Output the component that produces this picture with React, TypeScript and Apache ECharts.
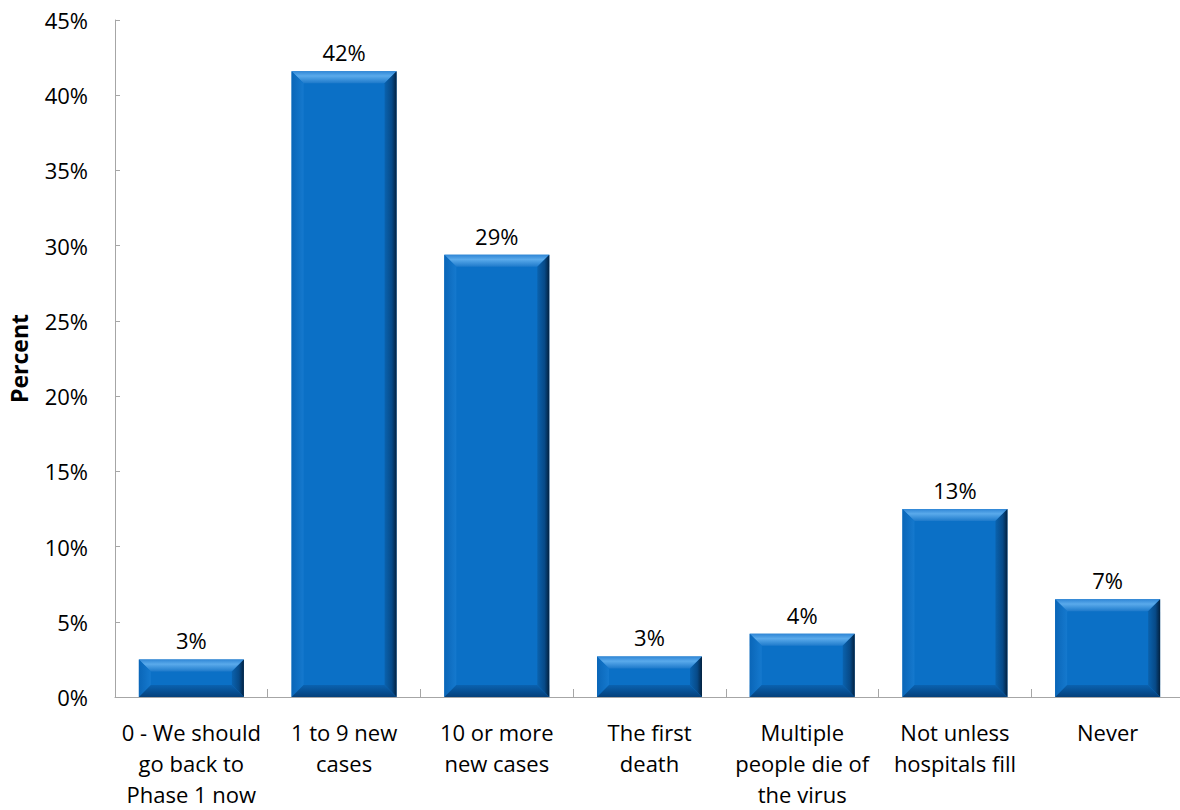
import React, { useEffect, useRef } from "react";
import * as echarts from "echarts";

const categories = [
  "0 - We should\ngo back to\nPhase 1 now",
  "1 to 9 new\ncases",
  "10 or more\nnew cases",
  "The first\ndeath",
  "Multiple\npeople die of\nthe virus",
  "Not unless\nhospitals fill",
  "Never",
];
const values = [2.5, 41.6, 29.4, 2.7, 4.2, 12.5, 6.5];
const valueLabels = ["3%", "42%", "29%", "3%", "4%", "13%", "7%"];
const yTicks = { min: 0, max: 45, interval: 5 };

const FONT = "'Open Sans', 'Noto Sans', sans-serif";

export default function App() {
  const ref = useRef<HTMLDivElement>(null);
  useEffect(() => {
    if (!ref.current) return;
    const chart = echarts.init(ref.current, null, { renderer: "svg" });
    const renderItem = (params: any, api: any) => {
      const idx = api.value(0);
      const val = api.value(1);
      const top = api.coord([idx, val]);
      const bot = api.coord([idx, 0]);
      const w = 105;
      const x = top[0] - w / 2;
      const y = top[1];
      const h = bot[1] - top[1];
      const b = Math.min(12, h / 2, w / 2);
      return {
        type: "group",
        children: [
          {
            type: "rect",
            shape: { x, y, width: w, height: h },
            style: { fill: "#0B70C6" },
          },
          {
            type: "polygon",
            shape: { points: [[x, y], [x + w, y], [x + w - b, y + b], [x + b, y + b]] },
            style: {
              fill: new echarts.graphic.LinearGradient(0, 0, 0, 1, [
                { offset: 0, color: "#2F86D6" },
                { offset: 0.4, color: "#5AAAEB" },
                { offset: 1, color: "#1E7ACB" },
              ]),
            },
          },
          {
            type: "polygon",
            shape: { points: [[x, y], [x + b, y + b], [x + b, y + h - b], [x, y + h]] },
            style: {
              fill: new echarts.graphic.LinearGradient(0, 0, 1, 0, [
                { offset: 0, color: "#0A66B8" },
                { offset: 1, color: "#1579CE" },
              ]),
            },
          },
          {
            type: "polygon",
            shape: { points: [[x + w, y], [x + w, y + h], [x + w - b, y + h - b], [x + w - b, y + b]] },
            style: {
              fill: new echarts.graphic.LinearGradient(0, 0, 1, 0, [
                { offset: 0, color: "#0A62AE" },
                { offset: 0.6, color: "#074A88" },
                { offset: 1, color: "#03213F" },
              ]),
            },
          },
          {
            type: "polygon",
            shape: { points: [[x, y + h], [x + w, y + h], [x + w - b, y + h - b], [x + b, y + h - b]] },
            style: {
              fill: new echarts.graphic.LinearGradient(0, 0, 0, 1, [
                { offset: 0, color: "#0A62B0" },
                { offset: 1, color: "#05407A" },
              ]),
            },
          },
          {
            type: "text",
            style: {
              text: valueLabels[idx],
              x: top[0],
              y: y - 8,
              align: "center",
              verticalAlign: "bottom",
              fill: "#000",
              font: `22px ${FONT}`,
            },
          },
        ],
      };
    };
    chart.setOption({
      animation: false,
      grid: { left: 115, top: 20, right: -4, bottom: 113, outerBoundsMode: "none", containLabel: false },
      xAxis: {
        type: "category",
        data: categories,
        axisLine: { lineStyle: { color: "#A6A6A6", width: 1 } },
        axisTick: { show: true, inside: true, length: 8, lineStyle: { color: "#A6A6A6" } },
        axisLabel: {
          interval: 0,
          color: "#000",
          fontFamily: FONT,
          fontSize: 22,
          lineHeight: 31,
          margin: 19,
        },
      },
      yAxis: {
        type: "value",
        min: yTicks.min,
        max: yTicks.max,
        interval: yTicks.interval,
        name: "Percent",
        nameLocation: "middle",
        nameRotate: 90,
        nameGap: 85,
        nameTextStyle: { fontFamily: FONT, fontSize: 23, fontWeight: "bold", color: "#000" },
        splitLine: { show: false },
        axisLine: { show: true, lineStyle: { color: "#A6A6A6", width: 1 } },
        axisTick: { show: true, inside: true, length: 5, lineStyle: { color: "#A6A6A6" } },
        axisLabel: {
          formatter: "{value}%",
          color: "#000",
          fontFamily: FONT,
          fontSize: 22,
          margin: 27,
        },
      },
      series: [
        {
          type: "custom",
          renderItem,
          data: values.map((v, i) => [i, v]),
          encode: { x: 0, y: 1 },
        },
      ],
    });
    return () => chart.dispose();
  }, []);
  return (
    <div
      ref={ref}
      style={{ position: "absolute", left: 0, top: 0, width: 1180, height: 810, background: "#fff" }}
    />
  );
}
